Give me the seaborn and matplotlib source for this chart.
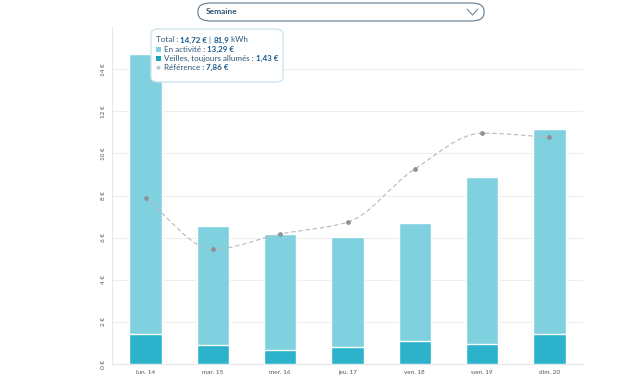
"""
Weekly electricity cost chart: stacked bars (active use + standby)
with a smoothed reference curve, tooltip and week selector.
"""
import numpy as np
import pandas as pd
import matplotlib
matplotlib.use("Agg")
import matplotlib.pyplot as plt
from matplotlib.path import Path
from matplotlib.patches import PathPatch, FancyBboxPatch, Rectangle, Ellipse
import seaborn as sns

days = ["lun. 14", "mar. 15", "mer. 16", "jeu. 17", "ven. 18", "sam. 19",
        "dim. 20"]
active = [13.29, 5.63, 5.48, 5.20, 5.58, 7.93, 9.76]
standby = [1.43, 0.90, 0.68, 0.82, 1.10, 0.93, 1.41]
reference = [7.86, 5.45, 6.17, 6.73, 9.26, 10.96, 10.77]
y_ticks = [0, 2, 4, 6, 8, 10, 12, 14]

LIGHT = "#80d1df"
DARK = "#2cb3cb"
TEXT = "#2c5677"
BOLD = "#1b5a8c"
FONT = "Lato"


def monotone_path(x, y):
    """Bezier path of a monotone cubic through the given points."""
    x = np.asarray(x, float)
    y = np.asarray(y, float)
    h = np.diff(x)
    d = np.diff(y) / h
    m = np.zeros_like(y)
    m[0], m[-1] = d[0], d[-1]
    for i in range(1, len(y) - 1):
        if d[i - 1] * d[i] <= 0:
            m[i] = 0
        else:
            w1 = 2 * h[i] + h[i - 1]
            w2 = h[i] + 2 * h[i - 1]
            m[i] = (w1 + w2) / (w1 / d[i - 1] + w2 / d[i])
    verts = [(x[0], y[0])]
    codes = [Path.MOVETO]
    for i in range(len(x) - 1):
        dx = h[i] / 3
        verts += [(x[i] + dx, y[i] + m[i] * dx),
                  (x[i + 1] - dx, y[i + 1] - m[i + 1] * dx),
                  (x[i + 1], y[i + 1])]
        codes += [Path.CURVE4] * 3
    return Path(verts, codes)


def rich_line(fig, x, y, parts, size=5.8):
    """Draws a line of text made of (string, bold) pieces, in pixels."""
    renderer = fig.canvas.get_renderer()
    for s, bold in parts:
        t = fig.text(x / 640, 1 - y / 387, s, fontsize=size, family=FONT,
                     color=BOLD if bold else TEXT,
                     fontweight="bold" if bold else "normal", va="center",
                     zorder=12)
        x += t.get_window_extent(renderer).width


sns.set_style("white")
plt.rcParams["font.family"] = [FONT, "DejaVu Sans"]

df = pd.DataFrame({"day": days, "active": active, "standby": standby})
df["total"] = df["active"] + df["standby"]

fig = plt.figure(figsize=(6.4, 3.87), dpi=100)
ax = fig.add_axes([112 / 640, 23 / 387, 471 / 640, 337 / 387])

sns.barplot(data=df, x="day", y="total", order=days, color=LIGHT,
            saturation=1, width=0.48, ax=ax, zorder=2)
sns.barplot(data=df, x="day", y="standby", order=days, color=DARK,
            saturation=1, width=0.48, ax=ax, zorder=3)
# thin white separator on top of each standby segment
ax.hlines(standby, np.arange(len(days)) - 0.24, np.arange(len(days)) + 0.24,
          color="white", linewidth=0.7, zorder=3.5)

pos = np.arange(len(days))
ax.add_patch(PathPatch(monotone_path(pos, reference), fill=False,
                       edgecolor="#b8b8b8", linewidth=0.8,
                       linestyle=(0, (4, 2.5)), zorder=4))
sns.scatterplot(x=pos, y=reference, color="#8d9299", s=12, linewidth=0,
                ax=ax, zorder=5)

ax.set_xlim(-0.5, len(days) - 0.5)
ax.set_ylim(0, 16)
ax.set_yticks(y_ticks)
ax.set_yticklabels(["{} €".format(v) for v in y_ticks], rotation=90,
                   va="center", fontsize=4.6, color="#555555")
ax.set_xticks(pos)
ax.set_xticklabels(days, fontsize=4.6, color="#555555")
ax.tick_params(axis="both", length=0, pad=4)
ax.set_xlabel("")
ax.set_ylabel("")
ax.grid(axis="y", color="#eeeeee", linewidth=0.8, zorder=0)
ax.set_axisbelow(True)
for side in ["top", "right"]:
    ax.spines[side].set_visible(False)
ax.spines["left"].set_color("#e4e6ea")
ax.spines["bottom"].set_color("#e4e6ea")
ax.spines["left"].set_linewidth(0.8)
ax.spines["bottom"].set_linewidth(0.8)

# week selector
fig.patches.append(FancyBboxPatch(
    (198 / 640, 1 - 21 / 387), 286 / 640, 18 / 387,
    boxstyle="round,pad=0,rounding_size=0.02", transform=fig.transFigure,
    facecolor="white", edgecolor="#5b7891", linewidth=0.8))
fig.text(206 / 640, 1 - 12 / 387, "Semaine", fontsize=6, family=FONT,
         fontweight="bold", color="#2f5677", va="center")
fig.lines.append(plt.Line2D([467 / 640, 472.5 / 640, 478 / 640],
                            [1 - 9 / 387, 1 - 15 / 387, 1 - 9 / 387],
                            transform=fig.transFigure, color="#5b7891",
                            linewidth=0.7))

# tooltip
fig.patches.append(FancyBboxPatch(
    (151 / 640, 1 - 82 / 387), 132 / 640, 53 / 387,
    boxstyle="round,pad=0,rounding_size=0.012", transform=fig.transFigure,
    facecolor="white", edgecolor="#cfe3ef", linewidth=1.0, zorder=10))
rich_line(fig, 156, 40, [("Total : ", False), ("14,72 €", True),
                         (" | ", False), ("81,9", True), (" kWh", False)])
for y, color in [(49, LIGHT), (58.5, "#1aa6b8")]:
    fig.patches.append(Rectangle((156 / 640, 1 - (y + 2.5) / 387),
                                 5 / 640, 5 / 387, transform=fig.transFigure,
                                 facecolor=color, edgecolor="none",
                                 zorder=11))
fig.patches.append(Ellipse((158.5 / 640, 1 - 67.7 / 387), 4 / 640, 4 / 387,
                           transform=fig.transFigure, facecolor="#c4c8cc",
                           edgecolor="none", zorder=11))
rich_line(fig, 164, 49, [("En activité : ", False), ("13,29 €", True)])
rich_line(fig, 164, 58.5, [("Veilles, toujours allumés : ", False),
                           ("1,43 €", True)])
rich_line(fig, 164, 67.7, [("Référence : ", False), ("7,86 €", True)])

fig.savefig("out.png", dpi=100)
